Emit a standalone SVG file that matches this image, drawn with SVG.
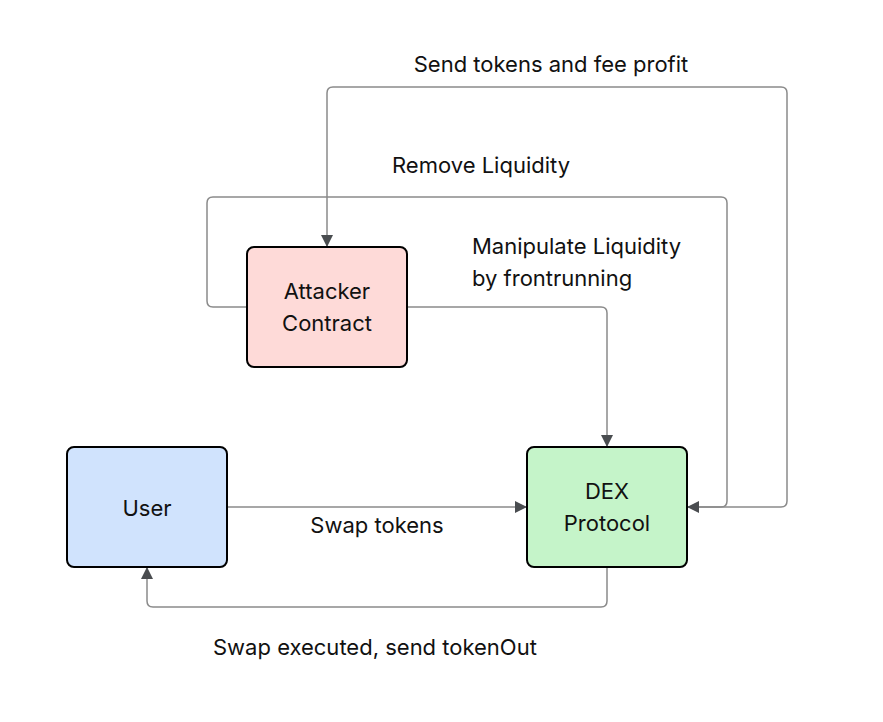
<svg xmlns="http://www.w3.org/2000/svg" width="883" height="722" viewBox="0 0 883 722">
<defs>
<marker id="arr" viewBox="0 0 10 10" refX="10" refY="5" markerWidth="12" markerHeight="12" markerUnits="userSpaceOnUse" orient="auto">
<path d="M0,0 L10,5 L0,10 z" fill="#4a4d50"/>
</marker>
<style>
.node{stroke:#000;stroke-width:2}
.edge{fill:none;stroke:#8a8a8a;stroke-width:1.5}
text{font-family:Inter,"Noto Sans",sans-serif;font-size:22px;fill:#111}
.c{text-anchor:middle}
</style>
</defs>
<rect width="883" height="722" fill="#fff"/>
<g id="connectors">
<path class="edge" d="M687,507 H781 Q787,507 787,501 V93 Q787,87 781,87 H333 Q327,87 327,93 V247" marker-end="url(#arr)"/>
<path class="edge" d="M247,307 H213 Q207,307 207,301 V203 Q207,197 213,197 H721 Q727,197 727,203 V501 Q727,507 721,507 H687" marker-end="url(#arr)"/>
<path class="edge" d="M407,307 H601 Q607,307 607,313 V447" marker-end="url(#arr)"/>
<path class="edge" d="M227,507 H527" marker-end="url(#arr)"/>
<path class="edge" d="M607,567 V601 Q607,607 601,607 H153 Q147,607 147,601 V567" marker-end="url(#arr)"/>
</g>
<g id="labels">
<text class="c" x="551" y="72">Send tokens and fee profit</text>
<text x="392" y="173">Remove Liquidity</text>
<text x="472" y="254">Manipulate Liquidity</text>
<text x="472" y="286">by frontrunning</text>
<text class="c" x="377" y="533">Swap tokens</text>
<text x="213" y="655">Swap executed, send tokenOut</text>
</g>
<g id="attacker">
<rect class="node" x="247" y="247" width="160" height="120" rx="7" fill="#fedad8"/>
<text class="c" x="327" y="299">Attacker</text>
<text class="c" x="327" y="331">Contract</text>
</g>
<g id="user">
<rect class="node" x="67" y="447" width="160" height="120" rx="7" fill="#d0e3fd"/>
<text class="c" x="147" y="516">User</text>
</g>
<g id="dex">
<rect class="node" x="527" y="447" width="160" height="120" rx="7" fill="#c5f4c9"/>
<text class="c" x="607" y="499">DEX</text>
<text class="c" x="607" y="531">Protocol</text>
</g>
</svg>
